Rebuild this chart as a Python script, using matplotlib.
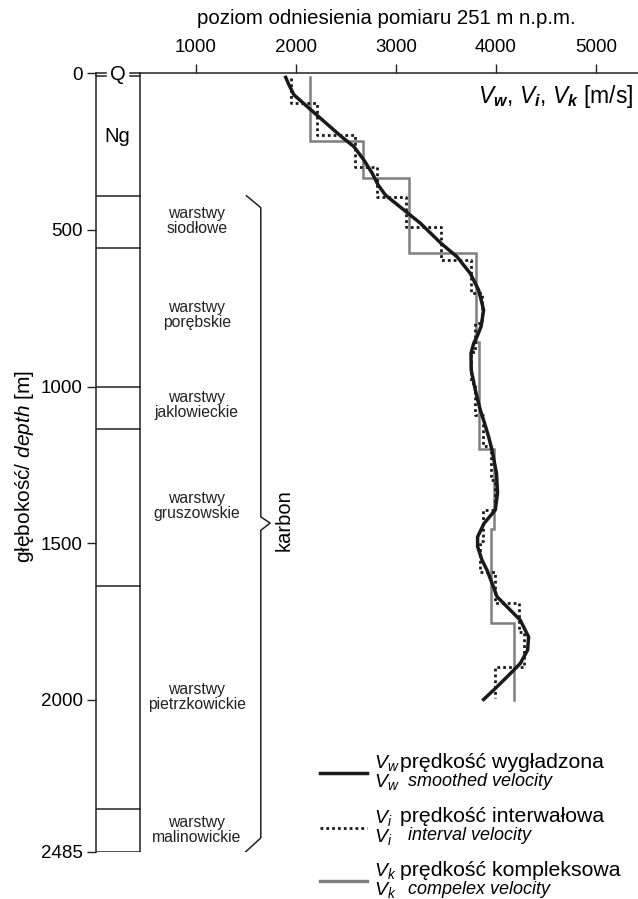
import numpy as np
import matplotlib
matplotlib.use("Agg")
import matplotlib.pyplot as plt
from matplotlib.lines import Line2D

plt.rcParams['font.family'] = ['Liberation Sans', 'DejaVu Sans']
plt.rcParams['mathtext.fontset'] = 'custom'
plt.rcParams['mathtext.rm'] = 'Liberation Sans'
plt.rcParams['mathtext.it'] = 'Liberation Sans:italic'
plt.rcParams['mathtext.bf'] = 'Liberation Sans:bold'
plt.rcParams['mathtext.bfit'] = 'Liberation Sans:bold:italic'

# smoothed velocity Vw (depth [m], velocity [m/s])
depth_w = [13, 37, 69, 135, 200, 234, 277, 319, 357, 389, 436, 479, 543, 586,
           639, 692, 734, 756, 777, 809, 841, 862, 894, 947, 1011, 1075, 1107,
           1160, 1203, 1277, 1340, 1394, 1437, 1480, 1511, 1554, 1586, 1640,
           1671, 1703, 1746, 1799, 1841, 1884, 1927, 1969, 1999]
vel_w = [1897, 1930, 1980, 2214, 2446, 2579, 2679, 2762, 2822, 2895, 3078,
         3245, 3451, 3611, 3743, 3826, 3860, 3876, 3866, 3850, 3810, 3777,
         3750, 3752, 3793, 3843, 3876, 3926, 3960, 4005, 4015, 3993, 3880,
         3816, 3816, 3860, 3910, 3975, 4010, 4110, 4243, 4326, 4316, 4243,
         4110, 3976, 3876]

# interval velocity Vi (interval boundaries and velocities)
depth_i = [15, 96, 197, 298, 394, 490, 596, 702, 798, 890, 990, 1090, 1190,
           1298, 1394, 1494, 1591, 1692, 1783, 1895, 1995]
vel_i = [1947, 2207, 2586, 2812, 3097, 3451, 3753, 3865, 3790, 3750, 3793,
         3870, 3950, 3990, 3870, 3845, 3993, 4228, 4278, 3993]

# complex velocity Vk
depth_k = [13, 216, 335, 573, 857, 1200, 1456, 1756, 2000]
vel_k = [2140, 2666, 3125, 3803, 3833, 3983, 3950, 4176]

# lithology column
layer_bounds = [391, 559, 1000, 1134, 1638, 2348]
layer_names = ["warstwy\nsiodłowe", "warstwy\nporębskie", "warstwy\njaklowieckie",
               "warstwy\ngruszowskie", "warstwy\npietrzkowickie", "warstwy\nmalinowickie"]
layer_label_depth = [472, 772, 1059, 1382, 1991, 2416]

xticks = [1000, 2000, 3000, 4000, 5000]
yticks = [0, 500, 1000, 1500, 2000, 2485]

legend_subs = ["w", "i", "k"]
legend_pl = ["prędkość wygładzona", "prędkość interwałowa", "prędkość kompleksowa"]
legend_en = ["smoothed velocity", "interval velocity", "compelex velocity"]


def step_profile(bounds, values):
    d = np.repeat(bounds, 2)[1:-1]
    v = np.repeat(values, 2)
    return v, d


W, H = 638, 899
fig = plt.figure(figsize=(W / 100, H / 100), dpi=100)
ax = fig.add_axes([96 / W, 1 - 851.7 / H, 1 - 96 / W, (851.7 - 73.3) / H])

ax.set_xlim(0, 5420)
ax.set_ylim(2485, 0)

col_w = 435
lw_col = 1.1
ink = '#222222'

# curves
style_k = dict(color='#7f7f7f', lw=1.8, solid_joinstyle='miter')
style_i = dict(color='#1a1a1a', lw=2.0, ls=(0, (1, 1.1)))
style_w = dict(color='#1a1a1a', lw=2.5)
v, d = step_profile(depth_k, vel_k)
ax.plot(v, d, zorder=2, **style_k)
v, d = step_profile(depth_i, vel_i)
ax.plot(v, d, zorder=3, **style_i)
ax.plot(vel_w, depth_w, zorder=4, **style_w)

# axes styling
for s in ['right', 'bottom']:
    ax.spines[s].set_visible(False)
for s in ['left', 'top']:
    ax.spines[s].set_linewidth(lw_col)
    ax.spines[s].set_color(ink)
ax.spines['top'].set_bounds(col_w, 5420)
ax.spines['left'].set_bounds(0, 2485)

ax.xaxis.tick_top()
ax.set_xticks(xticks)
ax.set_xticklabels([str(t) for t in xticks])
ax.tick_params(axis='x', length=6.5, width=1.0, pad=6, labelsize=13.5, color=ink)
ax.set_yticks(yticks)
ax.set_yticklabels([str(t) for t in yticks])
ax.tick_params(axis='y', length=6.5, width=1.0, pad=3, labelsize=13.5, color=ink)

# lithology column
ax.plot([col_w, col_w], [0, 2485], color=ink, lw=lw_col)
ax.plot([0, col_w], [2485, 2485], color=ink, lw=lw_col)
for b in layer_bounds:
    ax.plot([0, col_w], [b, b], color=ink, lw=lw_col)
for yq in [0, 9]:
    ax.plot([0, 100], [yq, yq], color=ink, lw=lw_col, clip_on=False)
    ax.plot([340, col_w], [yq, yq], color=ink, lw=lw_col, clip_on=False)
ax.text(col_w / 2, 4, "Q", ha='center', va='center', fontsize=14.5)
ax.text(col_w / 2, 202, "Ng", ha='center', va='center', fontsize=14.5)

for name, dl in zip(layer_names, layer_label_depth):
    ax.text(1008, dl, name, ha='center', va='center', fontsize=11.3,
            linespacing=1.05, color=ink)

# karbon brace
bx = [1505, 1648, 1648, 1741, 1648, 1648, 1498]
by = [391, 429, 1416, 1436, 1459, 2441, 2485]
ax.plot(bx, by, color=ink, lw=1.1)
ax.text(1877, 1426, "karbon", rotation=90, ha='center', va='center', fontsize=14.5)

# titles
fig.text(386 / W, 1 - 18 / H, "poziom odniesienia pomiaru 251 m n.p.m.",
         ha='center', va='center', fontsize=14.7)
fig.text(633 / W, 1 - 97 / H,
         r"$V_{\mathbfit{w}}$, $V_{\mathbfit{i}}$, $V_{\mathbfit{k}}$ [m/s]",
         ha='right', va='center', fontsize=16.5)
fig.text(25 / W, 1 - 466 / H, r"głębokość/ $\mathit{depth}$ [m]",
         rotation=90, ha='center', va='center', fontsize=15)

# legend
leg_styles = [dict(style_w), dict(style_i), dict(style_k, lw=2.4)]
row_y = [763, 818, 871]
for sub, pl, en, st, yc in zip(legend_subs, legend_pl, legend_en, leg_styles, row_y):
    fig.add_artist(Line2D([320 / W, 367 / W], [1 - (yc + 10) / H] * 2, **st))
    for yy, txt, x0, kw in [(yc - 1, pl, 400, dict(fontsize=15.3)),
                            (yc + 18, en, 408, dict(fontsize=13, style='italic'))]:
        fig.text(374 / W, 1 - (yy + 1) / H, "$V_%s$" % sub, fontsize=14,
                 ha='left', va='center')
        fig.text(x0 / W, 1 - yy / H, txt, ha='left', va='center', **kw)

fig.savefig("out.png", dpi=100)
